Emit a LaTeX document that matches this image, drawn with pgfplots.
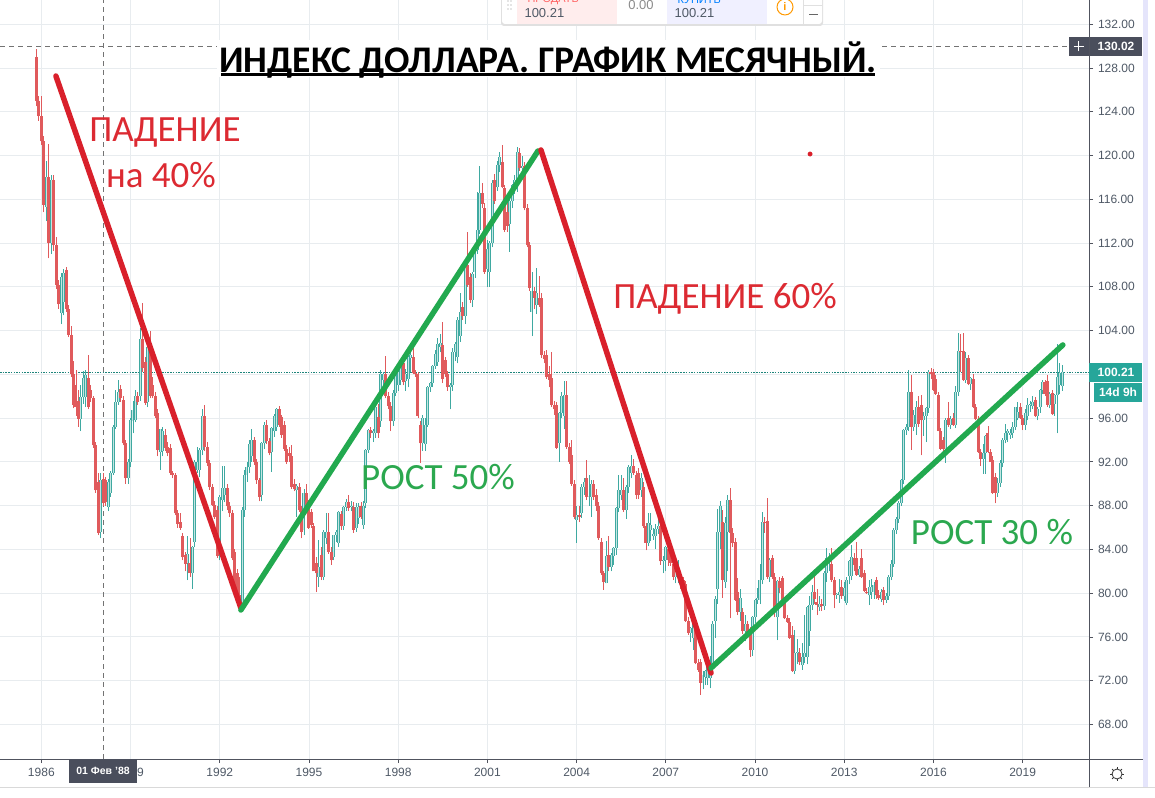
\documentclass[border=0pt]{standalone}
\usepackage{fontspec}
\setmainfont{Liberation Sans}
\newfontfamily\note{Carlito}
\usepackage{pgfplots}
\usepackage{pgfplotstable}
\pgfplotsset{compat=1.18}

\definecolor{gridc}{HTML}{E8ECEF}
\definecolor{spine}{HTML}{50535E}
\definecolor{tickc}{HTML}{4F5966}
\definecolor{upc}{HTML}{3FA9A1}
\definecolor{upin}{HTML}{C4E6E2}
\definecolor{downc}{HTML}{E05A5C}
\definecolor{labbox}{HTML}{4A4E5C}
\definecolor{tealbox}{HTML}{26A69A}
\definecolor{redln}{HTML}{D9202B}
\definecolor{greenln}{HTML}{22A94F}
\definecolor{redtx}{HTML}{DC2A32}
\definecolor{greentx}{HTML}{2BA84F}

% monthly candles, t = months since Nov 1985
\pgfplotstableread{
t o h l c
0 129.0 129.7 124.5 125.0
1 125.0 125.4 123.2 123.6
2 123.6 125.4 121.0 121.3
3 121.3 121.8 114.8 115.5
4 115.3 119.5 114.0 118.0
5 118.0 121.1 110.6 112.0
6 112.0 118.2 111.0 117.8
7 117.8 118.2 111.3 111.8
8 111.8 112.6 107.8 108.2
9 108.2 108.6 106.0 106.4
10 105.6 109.3 104.6 108.9
11 106.6 109.6 105.4 109.3
12 109.5 109.8 105.7 106.0
13 106.0 106.3 103.4 103.6
14 103.6 104.4 99.8 100.0
15 100.0 101.2 96.9 97.2
16 99.0 100.4 96.2 97.0
17 97.6 98.6 95.2 95.9
18 95.9 99.0 94.8 97.9
19 97.9 100.3 97.3 99.7
20 97.9 100.4 97.0 99.9
21 99.7 101.8 96.8 97.0
22 98.6 99.0 97.5 97.8
23 97.8 98.0 93.3 93.5
24 93.5 93.8 89.2 89.4
25 90.2 91.0 85.3 85.5
26 85.6 91.0 85.0 90.3
27 90.4 91.0 88.0 88.2
28 90.3 90.6 88.0 88.3
29 87.9 90.4 87.5 90.2
30 89.2 91.2 88.8 91.0
31 91.0 95.4 90.8 95.2
32 95.2 98.6 95.0 97.5
33 97.5 99.5 97.2 98.4
34 98.7 99.0 97.5 97.8
35 97.7 98.0 93.5 93.7
36 93.7 94.0 90.0 90.5
37 90.5 92.3 90.0 92.0
38 92.0 96.0 91.5 95.8
39 95.7 97.6 94.6 96.7
40 95.8 98.6 95.6 98.0
41 98.0 98.4 97.2 97.5
42 98.0 104.2 97.6 103.2
43 103.2 106.5 100.2 100.6
44 101.1 101.6 97.2 97.4
45 97.5 102.8 97.0 102.5
46 102.2 104.0 97.8 98.0
47 99.0 99.8 97.8 98.0
48 98.0 98.4 96.0 96.2
49 96.5 96.8 92.5 93.1
50 92.9 95.0 91.3 95.0
51 93.0 95.2 92.5 94.8
52 94.5 95.0 93.0 93.3
53 93.4 93.8 92.5 92.8
54 93.3 93.6 90.8 91.0
55 91.0 91.2 90.5 90.8
56 90.8 91.0 87.1 87.3
57 87.3 87.6 86.0 86.3
58 86.5 87.3 85.8 86.0
59 85.2 85.5 83.0 83.3
60 83.5 83.8 82.0 82.7
61 82.8 85.2 81.2 83.6
62 82.8 85.0 81.5 81.8
63 81.8 84.3 80.4 84.2
64 84.7 92.2 84.2 92.0
65 91.3 93.4 91.0 92.0
66 91.3 93.3 90.6 93.1
67 93.1 96.8 92.6 96.2
68 96.2 97.2 93.0 93.4
69 93.4 93.8 91.6 91.9
70 91.9 92.2 89.4 89.7
71 89.7 90.0 88.0 88.1
72 88.1 88.4 86.8 87.0
73 87.6 88.0 83.2 83.4
74 84.0 89.0 83.0 88.8
75 88.5 91.6 87.5 89.6
76 89.0 91.6 88.3 89.6
77 89.6 90.0 87.6 88.0
78 88.0 88.3 87.0 87.3
79 87.3 87.6 83.0 83.2
80 83.8 84.0 80.4 80.6
81 81.8 82.2 79.5 79.7
82 79.8 81.5 78.4 79.0
83 79.0 87.9 78.8 87.6
84 87.6 91.3 87.0 90.8
85 90.8 92.0 90.2 91.5
86 91.5 94.0 91.0 93.6
87 92.5 95.0 92.0 94.0
88 94.0 94.3 91.7 92.0
89 92.0 92.3 90.0 90.3
90 90.3 90.5 88.4 88.8
91 89.0 93.8 88.4 93.7
92 93.7 95.6 93.2 95.4
93 95.4 95.8 93.6 93.9
94 93.9 94.2 92.6 92.8
95 92.9 95.2 91.1 95.1
96 94.8 96.4 94.3 96.2
97 95.2 96.9 94.8 96.8
98 96.8 97.1 95.2 95.4
99 96.1 96.3 94.2 94.5
100 95.4 95.7 93.0 93.2
101 93.2 93.5 91.8 92.0
102 92.8 93.4 92.0 92.5
103 92.5 93.5 89.5 89.7
104 90.0 90.4 89.3 89.5
105 89.4 90.0 87.0 89.8
106 89.7 90.1 87.4 87.6
107 87.6 88.0 85.0 85.6
108 85.8 89.5 85.3 89.2
109 89.2 90.0 87.8 88.0
110 88.2 88.5 85.9 86.0
111 87.4 87.7 86.0 86.2
112 86.1 86.4 82.0 82.0
113 82.8 83.3 80.1 81.8
114 81.5 84.9 80.6 82.4
115 83.5 84.2 81.2 81.5
116 81.5 85.8 81.2 85.6
117 85.0 87.3 84.5 85.6
118 85.6 87.3 83.6 83.8
119 83.8 84.2 82.6 83.0
120 83.3 85.3 83.0 85.3
121 85.3 85.8 84.7 85.6
122 84.6 87.5 84.2 87.4
123 87.2 87.5 85.8 86.1
124 86.1 88.0 85.8 87.9
125 87.9 88.6 87.5 88.3
126 88.3 89.0 87.5 87.8
127 87.9 88.4 87.5 88.0
128 87.9 88.3 85.5 85.8
129 86.0 88.2 85.6 87.9
130 86.9 88.2 86.3 87.9
131 88.0 88.3 86.8 87.0
132 86.2 88.4 85.9 88.0
133 88.2 93.2 87.8 93.1
134 93.1 95.0 92.8 94.9
135 94.9 95.2 94.2 94.6
136 94.6 95.0 93.8 94.8
137 94.6 97.2 94.2 97.0
138 96.1 97.3 94.2 94.6
139 95.7 100.4 95.2 100.0
140 99.5 100.2 98.4 100.0
141 100.0 101.7 97.8 98.0
142 98.0 98.4 96.8 97.1
143 97.1 97.5 94.8 95.7
144 95.7 98.6 95.3 98.3
145 98.3 100.4 98.0 100.0
146 99.0 100.6 98.5 100.2
147 99.5 101.4 99.0 101.2
148 101.0 101.3 99.0 99.3
149 99.4 100.5 98.5 100.0
150 99.6 101.7 98.8 101.6
151 101.5 102.6 100.2 101.8
152 101.6 102.8 100.0 100.1
153 100.1 100.4 99.8 100.0
154 100.0 100.2 96.0 96.2
155 95.4 95.7 91.9 93.7
156 93.7 96.3 93.0 96.0
157 93.6 96.0 93.0 95.4
158 95.4 98.9 95.2 98.8
159 98.8 99.3 98.4 99.2
160 99.2 100.9 98.8 100.8
161 100.8 102.2 100.5 101.9
162 101.1 103.3 100.8 102.8
163 102.5 103.7 102.0 102.9
164 102.7 104.8 99.2 99.6
165 101.3 101.6 99.8 100.0
166 100.0 100.3 98.5 98.8
167 98.8 99.2 96.8 99.0
168 99.0 102.4 98.5 102.0
169 102.0 103.0 101.2 102.8
170 101.6 105.2 101.0 105.0
171 103.5 107.4 103.0 105.7
172 106.2 106.6 105.0 105.3
173 105.3 110.4 104.6 110.2
174 110.0 113.0 108.0 108.2
175 108.9 109.3 106.5 106.8
176 106.8 109.4 106.2 109.2
177 109.4 111.8 108.8 111.5
178 111.4 116.7 111.0 113.2
179 113.2 119.0 112.8 116.6
180 116.6 117.5 115.2 115.6
181 115.2 115.7 109.2 109.4
182 109.6 112.3 108.0 111.5
183 109.4 112.2 108.0 112.0
184 112.0 117.8 111.6 117.5
185 117.8 118.3 115.6 115.8
186 117.1 119.5 116.8 119.1
187 119.1 120.3 118.5 119.9
188 119.4 121.0 117.0 117.1
189 117.0 117.3 113.0 113.2
190 114.8 116.0 113.0 113.6
191 113.7 116.0 111.2 115.8
192 115.8 117.4 115.2 117.3
193 117.3 118.2 116.5 117.8
194 117.3 120.8 116.7 120.3
195 120.2 120.7 118.6 118.9
196 118.9 120.0 118.0 119.0
197 119.0 119.4 115.0 115.2
198 115.2 115.6 111.6 111.8
199 111.8 112.1 107.6 107.9
200 105.7 109.4 103.5 107.6
201 107.6 108.0 106.0 107.0
202 106.3 109.7 105.5 107.4
203 107.0 109.0 106.2 106.3
204 107.0 107.4 101.5 101.8
205 101.8 102.1 101.0 101.4
206 101.8 102.2 99.6 99.8
207 100.0 100.8 98.8 99.5
208 99.7 102.0 97.0 97.2
209 97.2 97.6 96.3 96.8
210 97.2 97.5 93.2 93.3
211 93.7 96.6 92.0 96.5
212 96.5 98.4 96.0 98.0
213 96.2 99.4 95.0 98.1
214 98.1 99.4 93.2 93.4
215 93.4 93.7 91.8 92.0
216 92.6 94.0 89.8 90.0
217 90.0 90.3 86.8 87.0
218 86.7 88.0 84.6 87.1
219 87.1 88.0 86.5 87.0
220 87.3 90.0 86.9 89.7
221 89.7 90.5 89.0 90.2
222 90.5 92.2 88.5 88.8
223 88.8 90.8 88.0 88.9
224 88.8 90.3 87.0 90.0
225 90.0 90.3 88.5 88.8
226 89.0 89.5 87.5 88.0
227 88.0 88.3 84.9 85.0
228 84.7 85.0 81.7 81.8
229 81.8 82.0 80.3 81.0
230 80.9 84.8 80.9 83.4
231 83.5 85.2 82.0 82.4
232 82.4 83.7 82.0 83.5
233 83.4 84.2 82.6 84.1
234 84.1 87.9 83.5 87.8
235 87.8 90.8 87.4 89.4
236 89.0 90.8 88.5 89.4
237 89.4 90.5 87.4 87.6
238 87.6 89.9 86.8 89.7
239 89.7 91.7 89.2 91.5
240 91.0 92.6 90.5 91.6
241 91.6 92.3 90.8 91.0
242 90.8 91.2 88.6 89.0
243 91.0 91.4 88.6 89.0
244 89.4 91.0 88.8 90.5
245 89.7 90.2 86.0 86.1
246 86.1 86.4 83.9 84.6
247 84.6 87.3 84.3 86.4
248 85.8 87.3 84.8 86.2
249 85.2 86.0 84.9 85.4
250 85.2 86.3 84.0 85.9
251 85.9 86.8 85.4 86.1
252 86.1 86.4 82.6 82.9
253 82.9 83.4 81.8 83.0
254 83.0 84.3 82.0 84.2
255 84.0 84.4 82.5 83.0
256 83.0 83.4 82.5 82.8
257 82.7 83.3 81.2 81.5
258 81.5 83.2 80.9 81.9
259 81.6 83.0 80.9 81.8
260 81.5 82.0 80.4 81.2
261 81.2 81.5 80.2 80.5
262 80.8 81.1 77.4 77.5
263 77.5 77.8 76.2 76.4
264 76.4 76.9 75.5 76.8
265 75.9 77.2 74.8 77.2
266 77.0 77.3 73.5 73.6
267 73.6 74.0 72.8 73.0
268 73.7 74.0 70.7 71.8
269 71.8 72.9 71.2 72.5
270 72.3 73.0 71.6 72.9
271 72.2 73.6 71.6 73.3
272 72.2 74.3 71.3 73.6
273 73.6 77.5 73.2 77.2
274 77.5 79.7 75.9 79.5
275 80.4 87.7 79.0 85.6
276 85.6 88.4 84.0 88.0
277 86.5 87.6 79.6 81.2
278 81.0 87.0 80.5 86.4
279 85.6 89.0 82.0 88.5
280 88.5 89.6 77.7 85.5
281 85.5 86.0 84.2 84.6
282 84.7 85.0 79.3 79.4
283 80.1 81.4 78.0 78.3
284 78.3 80.4 77.5 79.6
285 78.3 78.6 76.3 76.5
286 76.5 78.0 75.6 77.2
287 77.2 77.5 76.0 76.3
288 76.6 76.9 74.2 74.8
289 74.8 77.9 74.3 77.8
290 77.8 79.5 77.3 79.4
291 79.4 80.5 79.0 79.6
292 79.4 82.7 79.0 81.2
293 81.2 87.4 80.8 86.5
294 86.5 87.0 85.5 86.4
295 86.6 88.7 81.3 81.5
296 81.5 83.2 81.0 83.0
297 83.2 83.5 81.3 81.5
298 81.5 81.8 77.8 78.3
299 77.8 81.2 75.7 81.1
300 81.1 81.5 80.0 80.5
301 81.4 81.6 78.8 78.9
302 79.2 79.5 77.6 77.7
303 77.7 78.0 77.3 77.4
304 77.4 77.7 75.8 75.9
305 76.2 77.0 72.8 72.9
306 72.9 76.6 72.6 74.5
307 74.5 75.8 73.5 74.6
308 74.5 75.0 73.4 73.7
309 73.4 75.4 73.0 74.2
310 74.2 78.0 73.6 74.5
311 74.2 78.8 73.5 78.7
312 76.5 79.7 75.2 78.9
313 78.9 80.7 78.5 80.1
314 80.1 81.6 79.0 79.5
315 79.2 80.4 78.0 78.9
316 78.7 79.7 78.4 79.0
317 79.0 79.5 78.4 78.8
318 78.8 82.0 78.5 81.8
319 81.8 84.1 81.0 83.2
320 83.0 83.7 82.0 83.3
321 82.7 84.1 81.0 81.2
322 81.2 81.5 78.6 79.8
323 79.8 80.0 79.5 79.9
324 79.8 81.3 79.1 80.1
325 80.6 81.2 79.5 79.7
326 79.7 81.0 79.3 80.5
327 79.1 81.5 78.9 81.2
328 81.6 83.0 80.8 82.9
329 81.6 84.4 81.2 83.3
330 83.2 83.7 82.0 82.6
331 83.2 84.7 81.6 81.7
332 81.7 82.5 81.5 82.2
333 83.2 84.0 81.4 81.5
334 81.8 82.1 80.1 80.2
335 80.1 80.5 79.9 80.0
336 79.8 81.2 78.9 80.6
337 80.1 81.3 79.5 80.6
338 80.1 81.0 79.5 80.7
339 81.2 81.5 79.5 79.8
340 79.8 80.3 79.4 79.6
341 79.5 80.4 79.2 80.1
342 80.3 80.6 78.9 79.4
343 79.4 80.0 79.1 79.7
344 79.7 81.7 79.4 81.5
345 81.5 83.0 81.2 82.7
346 82.7 86.0 82.4 85.8
347 85.8 87.0 85.4 86.8
348 86.8 88.4 86.4 88.2
349 88.2 90.4 88.0 90.3
350 90.3 95.0 90.0 94.9
351 94.9 95.5 94.5 95.2
352 95.2 100.4 94.8 98.4
353 98.4 99.9 93.1 95.2
354 95.2 96.7 94.8 96.3
355 95.5 97.6 94.5 97.0
356 97.0 98.0 95.2 95.5
357 97.2 98.1 92.6 95.8
358 95.8 96.6 94.4 96.2
359 96.2 97.0 93.8 96.9
360 96.9 100.4 96.5 100.2
361 100.2 100.6 99.6 100.0
362 100.2 100.5 98.5 98.6
363 99.6 99.9 98.1 98.2
364 98.1 98.4 94.8 94.8
365 94.8 95.1 93.1 93.2
366 94.0 94.3 93.0 93.2
367 93.2 96.0 91.9 95.8
368 96.0 97.5 95.2 95.4
369 95.4 96.2 95.0 95.9
370 96.0 96.5 95.3 95.4
371 95.4 98.9 95.1 98.4
372 98.4 103.8 98.0 102.1
373 102.1 103.7 100.2 102.0
374 102.1 103.8 99.4 99.5
375 99.5 102.0 99.2 101.5
376 101.5 101.8 99.0 99.1
377 99.1 99.8 98.6 99.7
378 99.6 100.0 96.9 97.0
379 97.0 97.3 95.8 95.9
380 95.9 96.2 92.8 92.9
381 92.9 93.2 91.6 92.3
382 92.3 93.6 90.9 92.8
383 92.8 94.5 90.9 94.4
384 94.6 95.3 92.8 92.9
385 92.9 93.2 92.0 92.0
386 92.2 92.5 89.1 89.2
387 90.6 91.0 88.2 89.2
388 89.2 90.5 88.8 90.1
389 90.1 92.2 89.7 91.9
390 91.9 94.2 91.5 94.0
391 94.0 95.5 93.7 94.6
392 94.6 95.0 93.8 94.8
393 94.5 95.0 94.1 94.6
394 94.6 95.6 94.2 95.2
395 95.2 97.0 94.9 97.0
396 96.0 97.5 95.8 96.6
397 97.0 97.4 95.9 96.0
398 96.0 96.3 94.9 95.4
399 95.4 96.8 94.9 96.5
400 96.2 97.8 95.8 97.2
401 97.2 97.6 96.6 97.3
402 97.1 98.0 96.8 97.5
403 97.7 97.9 96.1 96.2
404 96.2 97.0 95.8 96.8
405 97.0 98.7 96.5 98.6
406 98.6 99.5 98.2 99.3
407 99.3 99.5 98.0 98.2
408 99.4 99.9 97.0 97.2
409 97.2 98.4 96.9 98.2
410 98.3 98.6 96.3 96.4
411 97.3 98.2 96.2 98.1
412 98.1 102.8 94.6 99.8
413 99.0 101.0 98.2 100.1
414 98.9 100.9 98.5 100.2
}\candles

\pgfplotsset{
    wick/.style={draw=none, mark=none, forget plot,
        error bars/.cd, y dir=plus, y explicit, error mark=none,
        error bar style={draw=#1, solid, line width=0.9pt}},
    body/.style 2 args={draw=none, mark=none, forget plot,
        error bars/.cd, y dir=plus, y explicit, error mark=none,
        error bar style={draw=#1, solid, line width=#2}},
}

\begin{document}
\begin{tikzpicture}[x=1pt,y=1pt]
\path[use as bounding box] (0,0) rectangle (1155,797);
\fill[white] (0,0) rectangle (1155,797);
\begin{axis}[
    at={(0pt,38pt)}, anchor=south west,
    scale only axis,
    width=1089pt, height=759pt,
    xmin=1984.61, xmax=2021.23,
    ymin=64.84, ymax=134.22,
    axis x line*=bottom, axis y line*=right,
    axis line style={spine, line width=0.9pt, -},
    xtick={1986,1989,...,2019},
    xticklabels={1986,1989,1992,1995,1998,2001,2004,2007,2010,2013,2016,2019},
    ytick={68,72,...,132},
    tick align=outside,
    major tick length=4pt,
    tick style={spine, line width=0.8pt},
    grid=major,
    grid style={gridc, line width=0.9pt},
    tick label style={font=\fontsize{12}{14}\selectfont, text=tickc},
    yticklabel style={/pgf/number format/fixed, /pgf/number format/fixed zerofill,
        /pgf/number format/precision=2, /pgf/number format/assume math mode=true,
        xshift=1.5pt},
    xticklabel style={yshift=-2pt},
]

% crosshair and last price line
\addplot[forget plot, color=black!55, line width=0.7pt, dash pattern=on 5pt off 4pt]
    coordinates {(1984.61,130.02)(2021.23,130.02)};
\addplot[forget plot, color=black!55, line width=0.7pt, dash pattern=on 5pt off 4pt]
    coordinates {(1988.07,64.84)(1988.07,134.22)};
\addplot[forget plot, color=tealbox!80!black, line width=0.7pt, dash pattern=on 1.5pt off 1.2pt]
    coordinates {(1984.61,100.21)(2021.23,100.21)};

% wicks
\addplot[restrict expr to domain={\thisrow{c}-\thisrow{o}}{0:1000}, wick=upc]
    table[x expr=1985.832+\thisrow{t}/12, y=l, y error plus expr=\thisrow{h}-\thisrow{l}] {\candles};
\addplot[restrict expr to domain={\thisrow{c}-\thisrow{o}}{-1000:0}, wick=downc]
    table[x expr=1985.832+\thisrow{t}/12, y=l, y error plus expr=\thisrow{h}-\thisrow{l}] {\candles};
% bodies, the up ones look hollow at this size
\addplot[restrict expr to domain={\thisrow{c}-\thisrow{o}}{0:1000}, body={upc}{3pt}]
    table[x expr=1985.832+\thisrow{t}/12, y=o, y error plus expr=\thisrow{c}-\thisrow{o}] {\candles};
\addplot[restrict expr to domain={\thisrow{c}-\thisrow{o}}{0:1000}, body={upin}{1pt}]
    table[x expr=1985.832+\thisrow{t}/12, y=o, y error plus expr=\thisrow{c}-\thisrow{o}] {\candles};
\addplot[restrict expr to domain={\thisrow{c}-\thisrow{o}}{-1000:0}, body={downc}{3pt}]
    table[x expr=1985.832+\thisrow{t}/12, y=c, y error plus expr=\thisrow{o}-\thisrow{c}] {\candles};

% hand drawn trend lines
\addplot[forget plot, color=redln, line width=5.5pt, line cap=round] coordinates {(1986.49,127.27)(1992.71,78.65)};
\addplot[forget plot, color=greenln, line width=5.5pt, line cap=round] coordinates {(1992.71,78.46)(2002.70,120.42)};
\addplot[forget plot, color=redln, line width=5.5pt, line cap=round] coordinates {(2002.80,120.51)(2008.52,72.70)};
\addplot[forget plot, color=greenln, line width=5.5pt, line cap=round] coordinates {(2008.52,73.16)(2020.35,102.69)};
% stray dot
\addplot[forget plot, only marks, mark=*, mark size=2.2pt, color=redln] coordinates {(2011.85,120.14)};
\end{axis}

% chart frame outside the axis
\draw[spine, line width=0.9pt] (1089,10) -- (1089,797);
\draw[spine, line width=0.9pt] (1089,38) -- (1143,38);
\fill[white] (1089.6,0) rectangle (1155,9.5);
\fill[white] (0,0) rectangle (1089,9.5);
\draw[black!15, line width=0.8pt] (0,10) -- (1155,10);
\fill[black!15!blue!10] (1143,10) rectangle (1147.5,797);

% price labels
\fill[labbox] (1069,741) rectangle (1142,760);
\draw[white, line width=0.9pt] (1073.5,750.5) -- (1083.5,750.5) (1078.5,745.5) -- (1078.5,755.5);
\draw[spine, line width=0.9pt] (1089,741) -- (1089,760);
\node[text=white, font=\bfseries\fontsize{12}{14}\selectfont] at (1116,750.5) {130.02};
\fill[tealbox] (1089,415) rectangle (1142,434);
\node[text=white, font=\bfseries\fontsize{12}{14}\selectfont] at (1116,424.5) {100.21};
\fill[tealbox] (1094,395) rectangle (1142,414);
\node[text=white, font=\bfseries\fontsize{12}{14}\selectfont] at (1118,404.5) {14d 9h};

% crosshair date
\fill[labbox] (69,14) rectangle (137,38);
\node[text=white, font=\bfseries\fontsize{10.5}{12}\selectfont] at (103,26) {01 Фев '88};

% settings gear
\draw[black!80, line width=0.8pt] (1117,23) circle (5);
\foreach \a in {0,45,...,315} \draw[black!80, line width=0.8pt] (1117,23)++(\a:5) -- ++(\a:2);

% buy and sell panel, cut by the top edge
\begin{scope}
\clip (0,0) rectangle (1155,797);
\fill[black!12, rounded corners=3pt] (501,771) rectangle (823,805);
\fill[white, rounded corners=3pt] (502,773) rectangle (822,805);
\fill[red!7] (517,773) rectangle (617,797);
\fill[blue!6] (667,773) rectangle (767,797);
\draw[black!12] (803,773) -- (803,797) (803,792) -- (822,792);
\node[text=red!60, font=\fontsize{11}{13}\selectfont, anchor=west] at (524,797) {ПРОДАТЬ};
\node[text=blue!50!cyan, font=\fontsize{11}{13}\selectfont, anchor=west] at (674,797) {КУПИТЬ};
\node[text=tickc, font=\fontsize{13}{15}\selectfont, anchor=west] at (521,784) {100.21};
\node[text=black!45, font=\fontsize{13}{15}\selectfont] at (641,792) {0.00};
\node[text=tickc, font=\fontsize{13}{15}\selectfont, anchor=west] at (671,784) {100.21};
\draw[orange!80!yellow, line width=1pt] (785,790) circle (8);
\node[text=orange!80!yellow, font=\bfseries\fontsize{11}{13}\selectfont] at (785,790) {i};
\draw[black!60, line width=1.2pt] (809,782.5) -- (818,782.5);
\foreach \yy in {788,792,796} \fill[black!20] (508,\yy) circle (0.8) (511,\yy) circle (0.8);
\end{scope}

% title and notes
\fill[white] (217,720) rectangle (880,757);
\node[font=\note\bfseries\fontsize{37.6}{40}\selectfont, text=black] at (548,737) {ИНДЕКС ДОЛЛАРА. ГРАФИК МЕСЯЧНЫЙ.};
\fill[black] (221,721) rectangle (875,723.5);
\node[font=\note\fontsize{37}{40}\selectfont, text=redtx] at (165,664) {ПАДЕНИЕ};
\node[font=\note\fontsize{37}{40}\selectfont, text=redtx] at (161,622) {на 40\%};
\node[font=\note\fontsize{37}{40}\selectfont, text=redtx] at (725,498) {ПАДЕНИЕ 60\%};
\node[font=\note\fontsize{37}{40}\selectfont, text=greentx] at (438,320) {РОСТ 50\%};
\node[font=\note\fontsize{37}{40}\selectfont, text=greentx] at (992,265) {РОСТ 30 \%};
\end{tikzpicture}
\end{document}
